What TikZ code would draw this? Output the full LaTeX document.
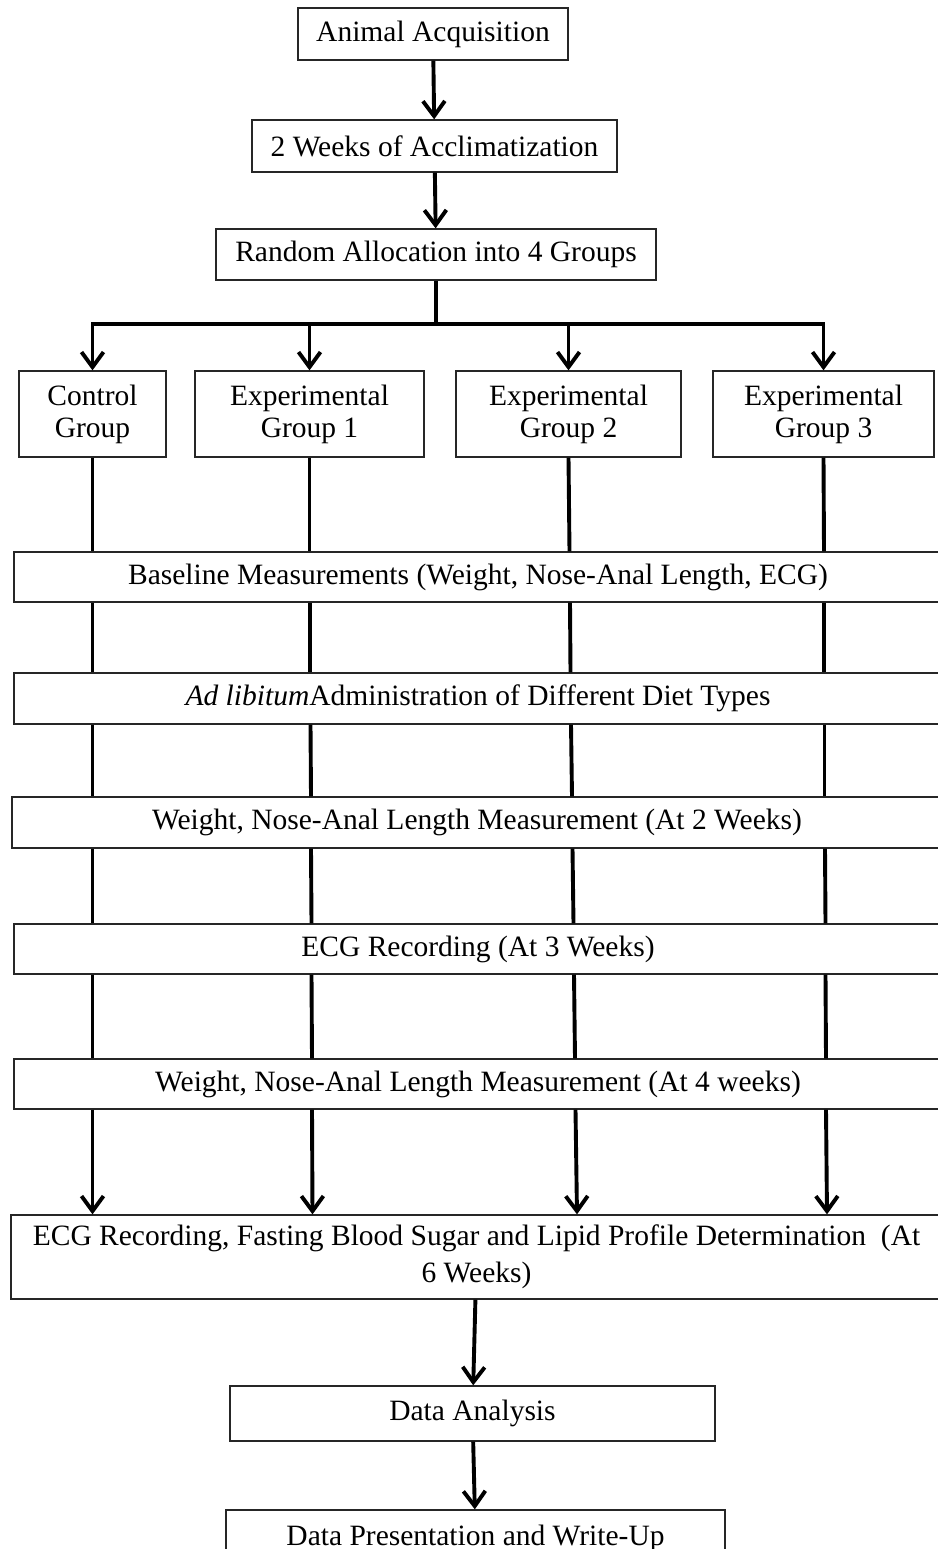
\documentclass[tikz,border=0pt]{standalone}
\usepackage{fontspec}
\setmainfont{Liberation Serif}
\usetikzlibrary{arrows.meta,calc}
\begin{document}
\begin{tikzpicture}[x=1pt,y=-1pt,
  box/.style={draw=black!85, line width=1.3pt, inner sep=2pt, align=center,
    font=\fontsize{29.5}{32}\selectfont, fill=white},
  wide/.style={box, minimum width=928pt, minimum height=50pt},
  wline/.style={line width=3.9pt, line join=miter},
  arr/.style={wline, -{Straight Barb[length=15pt,width=22pt]}},
]
\useasboundingbox (0,0) rectangle (937,1549);

% top chain
\node[box, minimum width=270pt, minimum height=52pt] (b1) at (433,34) {Animal Acquisition};
\node[box, minimum width=365pt, minimum height=52pt] (b2) at (434.5,146) {2 Weeks of Acclimatization};
\node[box, minimum width=440pt, minimum height=51pt] (b3) at (436,254.5) {Random Allocation into 4 Groups};

% groups
\node[box, minimum width=147pt, minimum height=86pt] (g0) at (92.5,414) {Control\\Group};
\node[box, minimum width=229pt, minimum height=86pt] (g1) at (309.5,414) {Experimental\\Group 1};
\node[box, minimum width=225pt, minimum height=86pt] (g2) at (568.5,414) {Experimental\\Group 2};
\node[box, minimum width=221pt, minimum height=86pt] (g3) at (823.5,414) {Experimental\\Group 3};

% wide stages
\node[wide] (base) at (478,577) {Baseline Measurements (Weight, Nose-Anal Length, ECG)};
\node[wide, minimum height=51pt] (adl) at (478,698.5) {\textit{Ad libitum}Administration of Different Diet Types};
\node[wide, minimum width=930pt, minimum height=51pt] (w2) at (477,822.5) {Weight, Nose-Anal Length Measurement (At 2 Weeks)};
\node[wide] (ecg) at (478,949) {ECG Recording (At 3 Weeks)};
\node[wide] (w4) at (478,1084) {Weight, Nose-Anal Length Measurement (At 4 weeks)};
\node[wide, minimum width=931pt, minimum height=84pt, font=\fontsize{29.5}{37}\selectfont] (fin) at (476.5,1257)
  {ECG Recording, Fasting Blood Sugar and Lipid Profile Determination~ (At\\6 Weeks)};

% bottom
\node[box, minimum width=485pt, minimum height=55pt] (da) at (472.5,1413.5) {Data Analysis};
\node[box, minimum width=499pt, minimum height=56pt] (dp) at (475.5,1538) {Data Presentation and Write-Up};

% connectors top
\draw[arr] (b1) -- (b2);
\draw[arr] (b2) -- (b3);
\coordinate (split) at (436,324);
\draw[wline] (b3.south) -- (split);
\draw[arr] (split) -| (g0.north);
\draw[arr] (split) -| (g1.north);
\draw[arr] (split) -| (g2.north);
\draw[arr] (split) -| (g3.north);

% column 0
\draw[wline] (g0.south) -- (g0.south |- base.north);
\draw[wline] (base.south -| g0) -- (adl.north -| g0);
\draw[wline] (adl.south -| g0) -- (w2.north -| g0);
\draw[wline] (w2.south -| g0) -- (ecg.north -| g0);
\draw[wline] (ecg.south -| g0) -- (w4.north -| g0);
\draw[arr] (w4.south -| g0) -- (fin.north -| g0);

% column 1
\draw[wline] (g1.south) -- (g1.south |- base.north);
\draw[wline] ([xshift=0.5pt]base.south -| g1) -- ([xshift=0.5pt]adl.north -| g1);
\draw[wline] ([xshift=1pt]adl.south -| g1) -- ([xshift=1.5pt]w2.north -| g1);
\draw[wline] ([xshift=1.5pt]w2.south -| g1) -- ([xshift=2pt]ecg.north -| g1);
\draw[wline] ([xshift=2pt]ecg.south -| g1) -- ([xshift=2.5pt]w4.north -| g1);
\draw[arr] ([xshift=2.5pt]w4.south -| g1) -- ([xshift=3pt]fin.north -| g1);

% column 2
\draw[wline] (g2.south) -- ([xshift=1pt]g2.south |- base.north);
\draw[wline] ([xshift=1.5pt]base.south -| g2) -- ([xshift=2pt]adl.north -| g2);
\draw[wline] ([xshift=2.5pt]adl.south -| g2) -- ([xshift=3.5pt]w2.north -| g2);
\draw[wline] ([xshift=4pt]w2.south -| g2) -- ([xshift=5pt]ecg.north -| g2);
\draw[wline] ([xshift=5.5pt]ecg.south -| g2) -- ([xshift=6.5pt]w4.north -| g2);
\draw[arr] ([xshift=7pt]w4.south -| g2) -- ([xshift=8.5pt]fin.north -| g2);

% column 3
\draw[wline] (g3.south) -- ([xshift=0.5pt]g3.south |- base.north);
\draw[wline] ([xshift=0.5pt]base.south -| g3) -- ([xshift=0.5pt]adl.north -| g3);
\draw[wline] ([xshift=1pt]adl.south -| g3) -- ([xshift=1pt]w2.north -| g3);
\draw[wline] ([xshift=1.5pt]w2.south -| g3) -- ([xshift=2pt]ecg.north -| g3);
\draw[wline] ([xshift=2pt]ecg.south -| g3) -- ([xshift=2.5pt]w4.north -| g3);
\draw[arr] ([xshift=2.5pt]w4.south -| g3) -- ([xshift=3.5pt]fin.north -| g3);

% bottom chain
\draw[arr] (fin) -- (da);
\draw[arr] (da) -- (dp);
\end{tikzpicture}
\end{document}
